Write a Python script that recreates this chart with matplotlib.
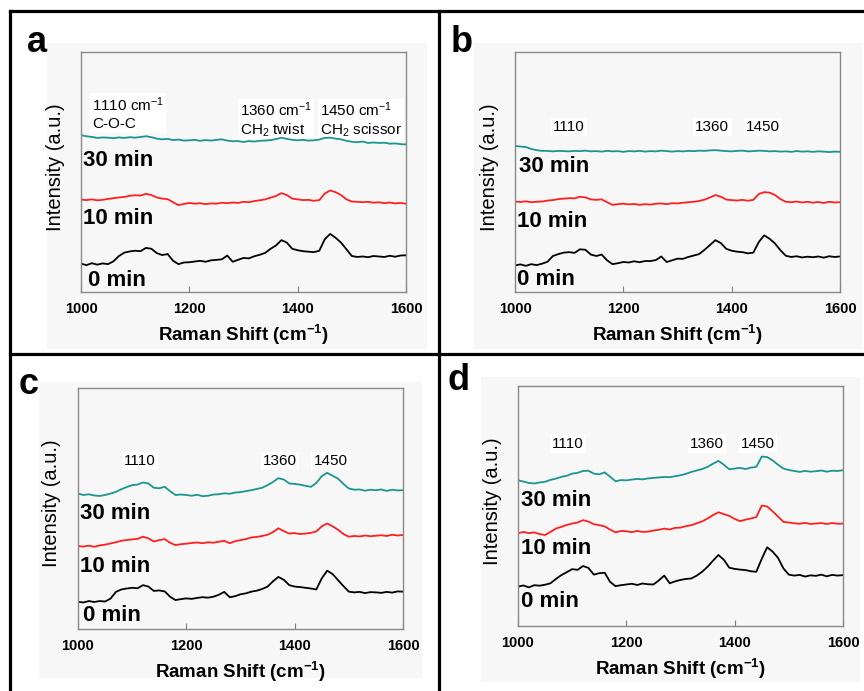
import numpy as np
import matplotlib
matplotlib.use("Agg")
import matplotlib.pyplot as plt
from matplotlib.patches import Rectangle
from matplotlib.lines import Line2D

plt.rcParams['font.family'] = ['Liberation Sans', 'DejaVu Sans']
plt.rcParams['mathtext.fontset'] = 'custom'
plt.rcParams['mathtext.rm'] = 'Liberation Sans'
plt.rcParams['mathtext.it'] = 'Liberation Sans:italic'
plt.rcParams['mathtext.bf'] = 'Liberation Sans:bold'

# ---------------- data ----------------
shift = np.arange(1000, 1601, 10)   # Raman shift (cm-1)
times = ["0 min", "10 min", "30 min"]
xticks = [1000, 1200, 1400, 1600]

a_0 = [11.8, 11.2, 12.0, 11.4, 11.9, 11.6, 12.8, 15.0, 16.4, 16.9,
       17.2, 17.0, 18.4, 18.0, 16.2, 15.4, 15.8, 13.0, 11.6, 12.3,
       12.4, 12.7, 13.0, 12.6, 13.2, 13.4, 13.6, 15.2, 12.6, 13.4,
       14.2, 14.0, 14.9, 15.5, 16.3, 18.0, 19.4, 21.6, 20.6, 18.0,
       17.4, 17.0, 16.8, 16.6, 17.2, 22.0, 24.2, 22.6, 20.6, 17.8,
       15.0, 14.6, 14.8, 14.5, 15.0, 14.8, 14.6, 15.1, 14.7, 15.2,
       15.3]
a_10 = [38.5, 38.3, 38.6, 38.2, 38.4, 38.8, 39.1, 39.4, 39.6, 40.1,
        40.3, 40.2, 40.9, 40.4, 39.4, 38.9, 38.7, 37.4, 36.2, 36.7,
        37.1, 36.8, 37.0, 36.6, 36.9, 36.8, 37.2, 37.0, 37.3, 37.1,
        37.6, 37.4, 37.9, 38.2, 38.6, 39.3, 40.0, 41.2, 40.4, 38.9,
        38.6, 38.3, 38.4, 38.0, 38.3, 41.0, 42.3, 41.6, 40.4, 38.6,
        37.7, 37.6, 37.4, 37.6, 37.2, 37.4, 37.0, 37.3, 36.9, 37.1,
        36.8]
a_30 = [65.3, 64.9, 64.6, 64.2, 64.4, 64.3, 64.1, 64.4, 64.2, 64.5,
        64.3, 64.6, 64.9, 64.5, 63.9, 63.6, 63.8, 63.3, 63.5, 63.1,
        63.2, 63.4, 63.0, 63.3, 63.1, 63.4, 63.6, 63.1, 62.8, 62.9,
        62.5, 62.9, 62.7, 63.0, 63.1, 63.3, 63.7, 64.3, 63.8, 63.4,
        63.2, 63.4, 63.1, 63.2, 63.5, 64.2, 64.3, 63.9, 63.6, 63.0,
        62.6, 62.4, 62.7, 62.1, 62.3, 62.1, 62.2, 61.8, 61.9, 61.6,
        61.5]

b_0 = [11.1, 11.5, 10.9, 11.6, 11.2, 11.8, 12.6, 15.0, 15.8, 16.4,
       16.6, 16.3, 17.8, 17.6, 15.6, 15.0, 15.6, 13.2, 11.6, 12.0,
       12.5, 12.3, 12.8, 12.4, 12.9, 12.9, 13.3, 14.8, 12.5, 13.2,
       13.9, 13.8, 14.6, 15.2, 15.8, 17.6, 19.6, 21.6, 20.4, 18.0,
       17.2, 16.8, 16.6, 16.1, 16.4, 20.8, 23.6, 22.2, 20.2, 17.4,
       15.1, 14.6, 14.9, 14.4, 14.7, 14.5, 14.8, 14.3, 14.9, 14.6,
       14.8]
b_10 = [37.7, 37.5, 37.8, 37.4, 37.6, 37.7, 38.1, 38.3, 38.7, 38.9,
        39.1, 39.0, 39.7, 39.4, 38.6, 38.4, 38.6, 37.4, 36.3, 36.6,
        36.8, 36.5, 36.7, 36.3, 36.6, 36.4, 36.8, 36.9, 36.6, 37.0,
        36.9, 37.2, 37.4, 37.6, 37.9, 38.5, 39.4, 40.4, 39.7, 38.5,
        38.3, 38.1, 38.4, 38.0, 38.4, 40.8, 41.6, 41.4, 40.4, 38.7,
        37.6, 37.4, 37.7, 37.3, 37.6, 37.2, 37.5, 37.1, 37.6, 37.3,
        37.4]
b_30 = [60.9, 60.6, 60.4, 59.6, 59.1, 58.8, 58.8, 58.6, 58.8, 58.7,
        58.6, 58.8, 58.7, 58.9, 58.6, 58.7, 58.5, 58.8, 58.6, 58.7,
        58.4, 58.7, 58.6, 58.8, 58.5, 58.7, 58.6, 58.9, 58.7, 58.5,
        58.7, 58.6, 58.8, 58.7, 58.9, 58.8, 59.0, 59.1, 58.9, 58.7,
        58.6, 58.8, 58.9, 58.6, 58.7, 58.9, 58.8, 58.6, 58.7, 58.5,
        58.6, 58.4, 58.7, 58.5, 58.6, 58.4, 58.6, 58.5, 58.3, 58.5,
        58.4]

c_0 = [11.3, 11.0, 11.6, 11.2, 11.6, 11.4, 12.6, 15.4, 16.4, 16.8,
       17.1, 16.9, 18.2, 17.6, 15.8, 16.0, 15.6, 13.4, 12.0, 12.4,
       12.7, 12.5, 12.9, 13.2, 13.0, 13.4, 14.2, 15.4, 13.2, 13.6,
       14.4, 14.8, 15.5, 15.9, 16.6, 17.6, 19.8, 21.6, 20.4, 18.2,
       17.6, 17.4, 17.1, 16.8, 16.4, 21.0, 24.2, 22.8, 20.3, 17.8,
       15.5, 15.2, 15.4, 14.9, 15.3, 15.2, 15.0, 15.4, 15.1, 15.6,
       15.5]
c_10 = [34.4, 34.2, 34.6, 34.1, 34.7, 35.0, 35.5, 36.0, 36.6, 36.9,
        37.2, 37.4, 38.3, 37.6, 36.3, 36.9, 37.3, 35.8, 34.8, 35.2,
        35.4, 35.7, 35.9, 35.6, 36.0, 35.8, 36.2, 36.6, 35.6, 36.4,
        36.9, 37.3, 38.0, 38.2, 38.6, 39.1, 40.2, 41.8, 40.6, 39.6,
        39.8, 39.4, 39.6, 39.9, 40.5, 42.6, 43.8, 42.6, 41.2, 39.4,
        38.3, 38.6, 38.4, 38.8, 38.5, 38.7, 38.9, 38.6, 39.1, 38.8,
        39.0]
c_30 = [56.2, 55.6, 55.9, 55.4, 55.2, 55.6, 56.2, 56.9, 58.0, 58.9,
        59.7, 59.9, 60.8, 60.4, 58.6, 58.4, 59.0, 57.2, 55.6, 55.8,
        55.6, 55.3, 55.7, 55.1, 55.3, 55.8, 55.9, 56.3, 56.1, 56.6,
        56.8, 57.2, 57.6, 58.1, 58.6, 59.7, 61.0, 62.6, 62.0, 60.4,
        60.2, 59.9, 59.4, 59.0, 60.6, 63.4, 64.8, 63.6, 62.4, 60.2,
        58.3, 57.8, 57.9, 57.4, 57.8, 57.6, 57.9, 57.3, 57.8, 57.5,
        57.6]

d_0 = [16.4, 16.9, 16.1, 17.0, 16.8, 17.2, 17.8, 19.6, 21.2, 22.4,
       23.7, 23.4, 25.0, 24.2, 21.4, 22.0, 22.2, 18.4, 16.6, 17.0,
       17.3, 17.6, 17.1, 17.7, 17.4, 17.3, 19.0, 21.0, 17.8, 18.6,
       19.2, 19.6, 19.8, 21.0, 22.6, 24.7, 27.2, 29.6, 27.6, 24.3,
       23.8, 23.5, 23.3, 22.8, 22.6, 28.0, 32.8, 31.0, 28.4, 24.0,
       21.4, 21.0, 21.3, 20.6, 21.1, 20.9, 21.4, 20.7, 21.3, 21.0,
       21.2]
d_10 = [38.6, 39.2, 38.7, 39.0, 38.3, 37.9, 39.2, 40.6, 41.3, 42.1,
        42.7, 43.1, 44.1, 43.5, 42.4, 42.0, 41.5, 40.2, 39.0, 39.6,
        39.5, 39.1, 39.6, 39.2, 39.3, 39.8, 40.1, 40.6, 40.2, 40.9,
        41.0, 41.6, 42.0, 42.8, 43.6, 44.8, 46.2, 47.4, 46.6, 45.9,
        44.6, 43.7, 44.3, 44.8, 45.4, 50.2, 49.8, 47.8, 45.6, 43.4,
        43.1, 42.8, 42.6, 43.0, 42.5, 42.7, 42.9, 42.5, 42.9, 42.6,
        42.7]
d_30 = [60.7, 60.2, 59.6, 59.4, 59.8, 60.1, 60.9, 61.4, 62.1, 62.6,
        63.5, 63.8, 64.6, 64.7, 63.5, 63.2, 64.0, 62.2, 60.3, 60.8,
        60.7, 61.0, 61.3, 61.1, 61.5, 61.7, 61.9, 62.1, 62.0, 62.4,
        62.8, 63.4, 64.2, 64.8, 65.4, 66.3, 67.6, 68.8, 67.2, 65.3,
        65.6, 65.9, 65.4, 66.0, 66.3, 70.6, 70.4, 69.0, 67.2, 65.6,
        65.0, 64.6, 64.2, 64.6, 64.3, 64.5, 64.8, 64.3, 64.7, 64.6,
        64.9]

# ---------------- figure ----------------
W, H = 864, 691
fig = plt.figure(figsize=(W / 100, H / 100), dpi=100)
fig.patch.set_facecolor('white')

def fx(x):
    return x / W

def fy(y):
    return 1 - y / H

def ax_rect(l, t, r, b):
    return [fx(l), fy(b), (r - l) / W, (b - t) / H]

BG = '#f7f7f7'
# light-grey backgrounds of the four sub-images
for (l, t, r, b) in [(47, 43, 427, 349), (474, 43, 862, 349),
                     (39, 382, 422, 678), (481, 377, 860, 682)]:
    fig.patches.append(Rectangle((fx(l), fy(b)), (r - l) / W, (b - t) / H,
                                 transform=fig.transFigure, facecolor=BG,
                                 edgecolor='none', zorder=-10))

# panel divider lines
lw_b = 2.3
for (x0, y0, x1, y1) in [(10, 11, 864, 11), (10, 11, 10, 691),
                         (439, 11, 439, 691), (10, 354, 864, 354)]:
    fig.lines.append(Line2D([fx(x0), fx(x1)], [fy(y0), fy(y1)],
                            transform=fig.transFigure, color='black',
                            lw=lw_b, solid_capstyle='projecting', zorder=5))

colors = {"0 min": "black", "10 min": "#ff1f1f", "30 min": "#1a9690"}

panels = [
    dict(letter='a', rect=(81, 52, 406, 292), data=[a_0, a_10, a_30],
         ylx=-0.049, lpos=(37, 42),
         tlab=[(1012, 4.9), (1004, 30.6), (1004, 54.9)]),
    dict(letter='b', rect=(515, 52, 840, 292), data=[b_0, b_10, b_30],
         ylx=-0.049, lpos=(462, 42),
         tlab=[(1004, 5.1), (1004, 29.4), (1008, 52.2)]),
    dict(letter='c', rect=(78, 388, 403, 629), data=[c_0, c_10, c_30],
         ylx=-0.052, lpos=(29, 384),
         tlab=[(1009, 5.5), (1003, 25.8), (1003, 47.9)]),
    dict(letter='d', rect=(518, 386, 843, 626), data=[d_0, d_10, d_30],
         ylx=-0.049, lpos=(459, 380),
         tlab=[(1005, 10.1), (1005, 32.3), (1005, 52.4)]),
]

peak_b = [(1070, 68.6, "1110"), (1333, 68.6, "1360"), (1426, 68.6, "1450")]
peak_c = [(1085, 69.6, "1110"), (1342, 69.6, "1360"), (1435, 69.6, "1450")]
peak_d = [(1063, 76.0, "1110"), (1318, 76.0, "1360"), (1412, 76.0, "1450")]

box = dict(facecolor='white', edgecolor='none', pad=1.5)

for i, p in enumerate(panels):
    ax = fig.add_axes(ax_rect(*p['rect']))
    ax.set_zorder(1)
    ax.set_facecolor(BG)
    for t, y in zip(times, p['data']):
        ax.plot(shift, y, color=colors[t], lw=1.3, zorder=2)
    ax.set_xlim(1000, 1600)
    ax.set_ylim(0, 100)
    ax.set_xticks(xticks)
    ax.set_yticks([])
    ax.tick_params(axis='x', direction='in', length=4, width=0.8,
                   color='#808080', labelsize=10.5, pad=7)
    for lab in ax.get_xticklabels():
        lab.set_fontweight('bold')
    for s in ax.spines.values():
        s.set_color('#888888')
        s.set_linewidth(1.0)
    ax.set_xlabel(r"Raman Shift (cm$^{\mathbf{-1}}$)", fontsize=13.5,
                  fontweight='bold', labelpad=5)
    ax.set_ylabel("Intensity (a.u.)", fontsize=14.5)
    ax.yaxis.set_label_coords(p['ylx'], 0.52)
    for t, (tx, ty) in zip(times, p['tlab']):
        ax.text(tx, ty, t, fontsize=16, fontweight='bold', ha='left',
                va='center')
    fig.text(fx(p['lpos'][0]), fy(p['lpos'][1]), p['letter'], fontsize=26,
             fontweight='bold', ha='center', va='center', zorder=6)
    if i == 0:
        ax.text(1020, 82, "1110 cm$^{-1}$\nC-O-C", fontsize=11, ha='left',
                va='top', linespacing=1.25, bbox=box, zorder=1)
        ax.text(1293, 80, "1360 cm$^{-1}$\nCH$_2$ twist", fontsize=11,
                ha='left', va='top', linespacing=1.25, bbox=box, zorder=1)
        ax.text(1441, 80, "1450 cm$^{-1}$\nCH$_2$ scissor", fontsize=11,
                ha='left', va='top', linespacing=1.25, bbox=box, zorder=1)
    else:
        pk = [peak_b, peak_c, peak_d][i - 1]
        for (tx, ty, s) in pk:
            ax.text(tx, ty, s, fontsize=11, ha='left', va='center', bbox=box,
                    zorder=1)

fig.savefig("out.png", dpi=100, facecolor='white')
